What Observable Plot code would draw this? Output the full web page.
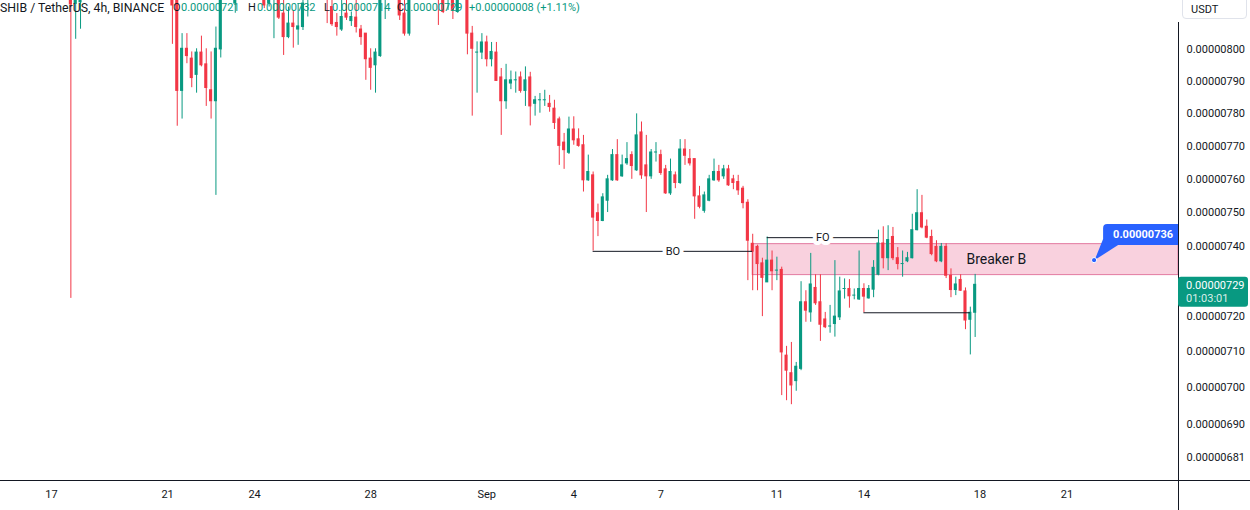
<!DOCTYPE html>
<html>
<head>
<meta charset="utf-8">
<script src="https://cdn.jsdelivr.net/npm/d3@7"></script>
<script src="https://cdn.jsdelivr.net/npm/@observablehq/plot@0.6"></script>
<style>
  html, body { margin: 0; padding: 0; background: #fff; }
  #wrap { position: relative; width: 1250px; height: 510px; overflow: hidden; font-family: Roboto, "Open Sans", sans-serif; }
  #legend span { position: absolute; top: 0; line-height: 16px; white-space: pre; color: #131722; font-size: 11px; }
  #legend .title { font-size: 12.3px; }
  #legend .v { color: #089981; }
  #unit { position: absolute; left: 1182px; top: -5px; width: 65px; height: 24px; box-sizing: border-box; border: 1px solid #e0e3eb; border-radius: 4px; background: #fff; font-size: 11px; color: #131722; }
  #unit span { position: absolute; left: 8px; top: 7px; line-height: 14px; }
</style>
</head>
<body>
<div id="wrap">
  <div id="chart"></div>
  <div id="legend"></div>
  <div id="unit"><span>USDT</span></div>
</div>
<script>
// ---- data (prices in units of 1e-8 USDT) ----
const UNIT = 1e-8;
const symbolTitle = "SHIB / TetherUS, 4h, BINANCE";
const currency = "USDT";
const countdown = "01:03:01";

// 4h bar number counted from 2023-08-17 00:00
const bar = [4,5,6,25,26,27,28,29,30,31,32,33,34,35,38,44,45,46,47,48,49,50,51,52,53,57,58,59,60,61,62,63,64,65,66,67,68,69,72,73,74,80,81,82,83,84,
  86,87,88,89,90,91,92,93,94,95,96,97,98,99,100,101,102,103,104,105,106,107,108,109,110,111,112,113,114,115,116,117,118,119,120,
  121,122,123,124,125,126,127,128,129,130,131,132,133,134,135,136,137,138,139,140,141,142,143,144,145,146,147,148,149,150,
  151,152,153,154,155,156,157,158,159,160,161,162,163,164,165,166,167,168,169,170,171,172,173,174,175,176,177,178,179,180,
  181,182,183,184,185,186,187,188,189,190,191];

const open = [828,814.5,815,818,818,787.0,800.2,797.1,792.0,799.0,795.3,787.2,783.8,800.0,814.6,820,814.6,818,820,811.4,803.9,808.2,806.3,807.1,816,822,813.5,808.4,806.3,811.4,809.0,810.1,806.3,805.0,797.1,795.0,797.9,818,820,811.4,805.0,822,820,816,820,811.9,
  818,805.0,799.0,799.0,802.2,796.9,799.0,791.2,783.8,789.3,790.3,791.2,787.0,791.2,783.0,784.1,784.1,783.0,781.5,778.2,771.1,768.0,775.1,772.1,770.3,759.7,761.2,749.9,747.6,753.6,759.7,767.3,760.9,764.8,767.3,
  762.7,774.2,764.2,760.9,768.1,767.3,763.0,755.8,761.2,758.9,769.0,766.1,766.1,754.9,750.6,753.6,759.7,762.2,760.9,763.0,760.0,759.2,757.2,753.0,740.9,740.0,735.2,729.7,736.0,733.1,
  733.3,708.9,704.0,701.8,705.2,724.0,721.1,728.1,724.0,719.1,717.1,717.8,719.7,727.8,727.8,725.9,724.8,727.8,725.1,727.6,731.9,741.0,736.7,742.9,736.7,735.0,735.8,736.7,744.9,749.9,
  745.9,742.9,740.0,735.8,740.0,731.6,727.5,730.4,727.1,719.0,721];
const high = [832,826,828,822,820,805.0,805.0,799.2,800.2,804.2,800.2,799.2,807.1,826,825,824,822,826,823,816,813.5,812.4,814.6,818,823,825,817,811.4,816,816,811.9,816,807.6,805.0,800.2,800.2,823,826,823,816,821,825,823,823,823,821,
  823,807.3,802.4,805.0,804.2,802.2,802.2,794.0,795.3,793.2,792.9,792.9,794.5,792.8,785.3,786.2,787.2,785.6,784.1,778.9,773.9,778.9,779.0,775.3,773.3,767.3,762.2,752.6,755.7,761.2,769.0,772.0,767.3,771.1,768.3,
  779.9,777.4,773.3,769.0,771.1,768.8,764.2,766.1,762.2,772.0,772.0,769.0,766.1,757.9,756.2,761.2,766.1,764.2,764.2,764.2,761.2,761.2,757.9,753.9,743.7,740.5,736.7,742.9,738.8,737.0,
  734.1,711.5,712.6,707.0,729.9,727.3,738.1,731.9,731.9,721.1,723.1,736.0,731.2,730.7,730.5,727.8,738.8,729.3,728.8,736.0,744.9,745.9,746.2,745.7,739.8,738.8,738.4,749.6,756.9,755.2,
  747.9,744.9,741.8,741.0,740.9,733.6,731.2,731.9,728.1,722.6,732];
const low = [725.1,803.2,806.4,801.6,776.1,778.3,795.5,788.0,786.3,794.5,782.2,778.3,755.2,797.3,811.5,813,813.5,803.4,809.5,798.1,803.4,800.4,801.3,806.0,810.3,808.2,807.3,804.2,805.7,809.2,807.3,805.2,801.3,790.3,787.2,786.3,797.5,809.5,809.2,804.2,804.2,807.6,811.4,812.4,809.5,811.5,
  798.3,779.2,786.3,796.8,794.5,794.5,790.0,773.3,781.3,787.4,786.3,786.3,782.2,776.2,779.2,780.1,782.2,780.4,775.1,764.2,763.0,767.5,770.3,769.7,756.2,759.4,738.8,743.0,747.4,750.1,759.4,759.4,760.6,764.2,760.0,
  762.4,760.0,750.1,760.0,765.2,761.2,755.5,755.2,757.2,758.5,764.2,764.0,748.1,751.2,749.9,753.3,759.4,759.1,760.0,757.9,756.9,755.2,751.2,730.2,727.3,727.3,719.9,729.7,727.3,730.2,
  697.8,696.4,695.3,699.0,704.7,718.3,718.3,723.1,712.9,716.5,715.2,714.1,718.8,724.9,722.3,724.7,724.5,721.0,724.9,725.3,731.6,733.6,733.1,736.0,733.3,731.2,735.4,736.5,744.7,745.3,
  742.4,737.4,735.4,735.4,730.8,725.3,725.9,727.1,716.2,709.1,714];
const close = [814.3,822,824,814,787.0,800.2,797.9,791.0,799.0,795.0,787.9,783.8,800.2,822,822,814.0,819,823,810.1,803.9,808.2,807.1,807.3,814.6,820,817,808.0,807.1,810.3,810.1,810.3,807.1,803.9,796.9,794.2,799.0,820,823,810.8,805.0,818,818,811.9,820,812.4,818,
  805.0,800.2,799.0,802.2,796.9,799.2,790.1,783.8,790.3,790.3,790.3,787.0,790.3,782.2,784.1,784.1,784.1,782.0,777.1,770.1,768.8,775.1,771.8,770.1,759.7,762.2,748.6,747.6,754.6,760.0,767.3,759.7,764.2,766.1,764.0,
  773.3,761.2,760.9,768.1,768.1,761.9,755.8,762.2,758.9,769.0,767.1,764.8,754.9,751.8,755.2,760.0,762.2,759.7,763.0,758.2,758.9,756.7,752.9,741.8,738.6,735.0,731.0,736.0,732.9,733.1,
  709.8,704.7,700.6,705.8,724.0,721.6,729.1,723.7,717.6,716.9,717.1,719.9,727.1,727.8,725.7,725.9,727.8,725.6,727.8,733.9,741.0,736.7,742.0,736.7,735.0,735.0,736.7,744.9,749.9,745.7,
  742.7,737.9,735.8,740.0,731.6,727.5,729.1,727.3,718.8,721.0,729];

// axis ticks
const tickBars = [0, 24, 42, 66, 90, 108, 126, 150, 168, 192, 210];
const tickLabels = ["17", "21", "24", "28", "Sep", "4", "7", "11", "14", "18", "21"];
const priceTicks = [800, 790, 780, 770, 760, 750, 740, 720, 710, 700, 690, 681];

// drawings
const lineLabel = ["BO", "FO", ""];
const lineFrom = [112, 148, 168];
const lineTo = [145, 171, 190];
const linePrice = [738.7, 742.7, 721.0];
const zoneFrom = 145, zoneTop = 740.8, zoneBottom = 731.8, zoneText = "Breaker B", zoneTextBar = 189.2;
const calloutBar = 215.7, calloutPrice = 736;

// ---- build ----
const up = "#089981", down = "#F23645", ink = "#131722", blue = "#2962FF";
const xDomain = [-10.55, 233.05];
const yDomain = [674.8, 815.6];
const fmt = v => (v * UNIT).toFixed(8);

const candles = bar.map((b, i) => ({b, o: open[i], h: high[i], l: low[i], c: close[i]}));
const color = d => d.c >= d.o ? up : down;
const lines = lineLabel.map((label, i) => ({label, x1: lineFrom[i], x2: lineTo[i], y: linePrice[i]}));
const zone = [{x1: zoneFrom, x2: xDomain[1], y1: zoneBottom, y2: zoneTop, tx: zoneTextBar, ty: Math.sqrt(zoneTop * zoneBottom), label: zoneText}];
const last = candles[candles.length - 1];
const prev = candles[candles.length - 2];

function frameLines(index, scales, values, dims) {
  const g = d3.create("svg:g");
  const yb = dims.height - dims.marginBottom;
  const xr = dims.width - dims.marginRight;
  g.append("line").attr("x1", 0).attr("x2", dims.width).attr("y1", yb + 0.5).attr("y2", yb + 0.5).attr("stroke", ink);
  g.append("line").attr("x1", xr + 0.5).attr("x2", xr + 0.5).attr("y1", 22).attr("y2", dims.height).attr("stroke", ink);
  return g.node();
}

function callout(index, scales, values, dims) {
  const px = scales.x(calloutBar), py = scales.y(calloutPrice);
  const right = dims.width - dims.marginRight;
  const g = d3.create("svg:g");
  const x0 = px + 9, y0 = py - 36, y1 = py - 15, r = 4;
  g.append("path")
    .attr("d", `M${x0 + r},${y0}H${right}V${y1}H${x0 + r}Q${x0},${y1} ${x0},${y1 - r}V${y0 + r}Q${x0},${y0} ${x0 + r},${y0}Z`)
    .attr("fill", blue);
  g.append("path").attr("d", `M${x0},${y1 - 6}L${x0 + 15},${y1}L${px + 0.5},${py}Z`).attr("fill", blue);
  g.append("circle").attr("cx", px).attr("cy", py).attr("r", 2.6).attr("fill", blue).attr("stroke", "#fff").attr("stroke-width", 1);
  g.append("text").attr("x", px + 49).attr("y", py - 25.5).attr("dy", "0.35em").attr("text-anchor", "middle")
    .attr("fill", "#fff").attr("font-weight", "bold").attr("font-size", 11).text(fmt(calloutPrice));
  return g.node();
}

function priceLabel(index, scales, values, dims) {
  const py = scales.y(last.c);
  const x0 = dims.width - dims.marginRight;
  const g = d3.create("svg:g").attr("text-anchor", "start");
  g.append("rect").attr("x", x0).attr("y", py - 7.5).attr("width", 70).attr("height", 30).attr("rx", 3).attr("fill", up);
  g.append("text").attr("x", x0 + 8).attr("y", py + 0.5).attr("dy", "0.35em").attr("text-anchor", "start").attr("fill", "#fff").attr("font-size", 11).text(fmt(last.c));
  g.append("text").attr("x", x0 + 8).attr("y", py + 14).attr("dy", "0.35em").attr("text-anchor", "start").attr("fill", "rgba(255,255,255,0.85)").attr("font-size", 11).text(countdown);
  return g.node();
}

const chart = Plot.plot({
  width: 1250,
  height: 510,
  marginLeft: 0,
  marginRight: 72,
  marginTop: 0,
  marginBottom: 30,
  style: {fontFamily: "Roboto, 'Open Sans', sans-serif", fontSize: "11px", color: ink, background: "#fff", overflow: "visible"},
  x: {domain: xDomain, label: null, ticks: tickBars, tickFormat: d => tickLabels[tickBars.indexOf(d)], tickSize: 0, tickPadding: 10},
  y: {type: "log", domain: yDomain, label: null, axis: null},
  marks: [
    Plot.rect(zone, {x1: "x1", x2: "x2", y1: "y1", y2: "y2", fill: "#f9d1de", stroke: "#e27aa0", strokeWidth: 1, clip: true}),
    Plot.ruleX(candles, {x: "b", y1: "l", y2: "h", stroke: color, strokeWidth: 1, clip: true}),
    Plot.rect(candles, {x1: d => d.b - 0.32, x2: d => d.b + 0.32, y1: "o", y2: "c", fill: color, insetTop: -0.5, insetBottom: -0.5, clip: true}),
    Plot.ruleY(lines, {x1: "x1", x2: "x2", y: "y", stroke: ink, strokeWidth: 1}),
    Plot.text(lines.filter(d => d.label), {x: d => (d.x1 + d.x2) / 2, y: "y", text: "label", fill: ink, stroke: "#fff", strokeWidth: 8, strokeLinejoin: "round", fontSize: 11}),
    Plot.text(zone, {x: "tx", y: "ty", text: "label", fill: ink, fontSize: 14, textAnchor: "start"}),
    // right price axis labels, placed with the y scale
    Plot.text(priceTicks, {x: () => xDomain[1], y: d => d, text: fmt, dx: 8, textAnchor: "start", fill: ink, fontSize: 11}),
    frameLines,
    callout,
    priceLabel
  ]
});
document.getElementById("chart").append(chart);

// legend
const change = last.c - prev.c;
const pct = change / prev.c * 100;
const legendParts = [
  {text: symbolTitle, left: 0, cls: "title"},
  {text: "O", left: 173}, {text: fmt(last.o), left: 181, cls: "v"},
  {text: "H", left: 248}, {text: fmt(last.h), left: 257, cls: "v"},
  {text: "L", left: 324}, {text: fmt(last.l), left: 332, cls: "v"},
  {text: "C", left: 397}, {text: fmt(last.c), left: 404, cls: "v"},
  {text: (change >= 0 ? "+" : "") + fmt(change) + " (" + (pct >= 0 ? "+" : "") + pct.toFixed(2) + "%)", left: 469, cls: "v"}
];
const legend = document.getElementById("legend");
for (const p of legendParts) {
  const s = document.createElement("span");
  s.textContent = p.text;
  s.style.left = p.left + "px";
  if (p.cls) s.className = p.cls;
  legend.append(s);
}
document.querySelector("#unit span").textContent = currency;
</script>
</body>
</html>
